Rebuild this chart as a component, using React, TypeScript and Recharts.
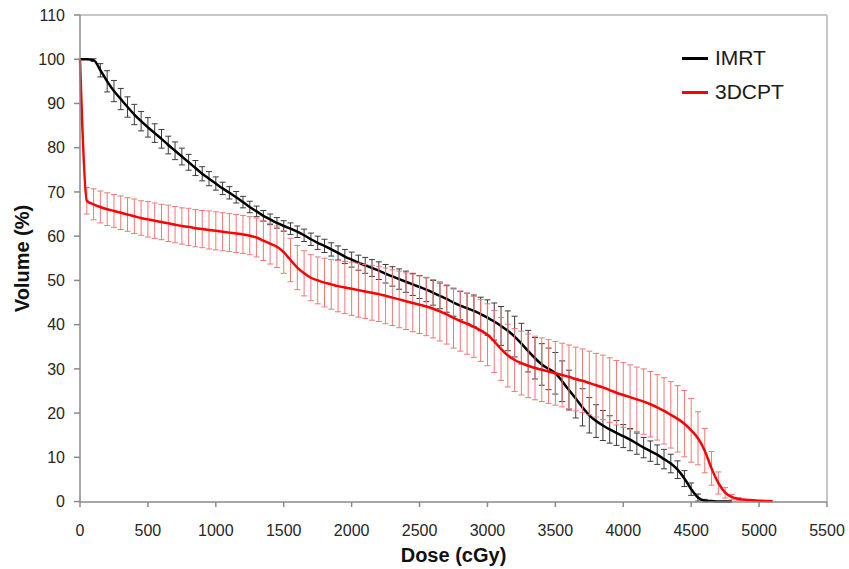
import { CartesianGrid, ErrorBar, Label, Legend, Line, LineChart, ReferenceLine, XAxis, YAxis } from "recharts";

// dose grid (cGy), shared by both curves
const doses = [
  0, 50, 100, 150, 200, 250, 300, 350, 400, 450, 500, 550, 600, 650, 700, 750, 800, 850, 900, 950,
  1000, 1050, 1100, 1150, 1200, 1250, 1300, 1350, 1400, 1450, 1500, 1550, 1600, 1650, 1700, 1750, 1800, 1850, 1900, 1950,
  2000, 2050, 2100, 2150, 2200, 2250, 2300, 2350, 2400, 2450, 2500, 2550, 2600, 2650, 2700, 2750, 2800, 2850, 2900, 2950,
  3000, 3050, 3100, 3150, 3200, 3250, 3300, 3350, 3400, 3450, 3500, 3550, 3600, 3650, 3700, 3750, 3800, 3850, 3900, 3950,
  4000, 4050, 4100, 4150, 4200, 4250, 4300, 4350, 4400, 4450, 4500, 4550, 4600, 4650, 4700, 4750, 4800, 4850, 4900, 4950,
  5000, 5050, 5100,
];

const imrtVolume = [
  100, 100, 99.8, 97.5, 95, 92.8, 91, 89.2, 87.5, 86, 84.6, 83.3, 82, 80.6, 79.3, 78, 76.7, 75.4, 74.1, 73,
  71.9, 70.8, 69.8, 68.8, 67.7, 66.6, 65.6, 64.6, 63.8, 63, 62.3, 61.7, 61, 60.2, 59.3, 58.5, 57.8, 57, 56.2, 55.4,
  54.7, 54, 53.4, 52.8, 52.2, 51.5, 50.9, 50.3, 49.7, 49.1, 48.5, 47.9, 47.2, 46.5, 45.8, 45, 44.3, 43.7, 43.1, 42.4,
  41.6, 40.7, 39.7, 38.6, 37.3, 35.7, 34, 32.4, 31, 30, 29, 27.2, 25.2, 23.3, 21.3, 19.5, 18.2, 17.2, 16.3, 15.5,
  14.8, 14, 13.1, 12.2, 11.4, 10.6, 9.6, 8.6, 7.2, 5.2, 2.8, 0.9, 0.2, 0.1, 0, 0, 0,
];

const imrtError = [
  0, 0, 0.3, 1.5, 2.4, 2.4, 2.4, 2.3, 2.3, 2.2, 2.2, 2.1, 2.1, 2, 2, 1.9, 1.8, 1.7, 1.6, 1.6,
  1.5, 1.4, 1.4, 1.3, 1.3, 1.3, 1.2, 1.2, 1.2, 1.2, 1.2, 1.3, 1.3, 1.4, 1.4, 1.5, 1.5, 1.5, 1.6, 1.6,
  1.7, 1.7, 1.8, 1.9, 2, 2.1, 2.2, 2.3, 2.4, 2.5, 2.6, 2.7, 2.8, 2.9, 3, 3.1, 3.2, 3.4, 3.6, 3.8,
  4, 4.2, 4.4, 4.5, 4.6, 4.6, 4.7, 4.7, 4.7, 4.7, 4.7, 4.6, 4.5, 4.4, 4.2, 4, 3.7, 3.4, 3.1, 2.8,
  2.6, 2.5, 2.4, 2.3, 2.3, 2.2, 2.2, 2.1, 2, 1.8, 1.4, 0.8, 0.3, 0.1, 0, 0, 0,
];

const cptVolume = [
  100, 68, 67.2, 66.6, 66.1, 65.7, 65.3, 64.9, 64.5, 64.1, 63.8, 63.5, 63.2, 62.9, 62.6, 62.3, 62.1, 61.8, 61.6, 61.4,
  61.2, 61, 60.8, 60.6, 60.4, 60.1, 59.7, 59, 58.3, 57.6, 56.4, 54.6, 52.9, 51.6, 50.6, 50, 49.5, 49.1, 48.7, 48.4,
  48.1, 47.8, 47.5, 47.2, 46.9, 46.5, 46.1, 45.7, 45.3, 44.9, 44.5, 44.1, 43.6, 43, 42.3, 41.5, 40.8, 40.2, 39.5, 38.7,
  37.7, 36.2, 34.5, 33, 32, 31.3, 30.7, 30.2, 29.8, 29.4, 29, 28.6, 28.2, 27.7, 27.3, 26.8, 26.3, 25.8, 25.2, 24.6,
  24.1, 23.6, 23.1, 22.6, 22, 21.3, 20.5, 19.6, 18.7, 17.6, 16.1, 14.3, 11.5, 7.5, 4.2, 2, 1, 0.6, 0.4, 0.3,
  0.2, 0.1, 0.05,
];

const cptError = [
  0, 3, 3.5, 3.6, 3.7, 3.7, 3.8, 3.8, 3.9, 3.9, 4, 4, 4, 4.1, 4.1, 4.1, 4.2, 4.2, 4.2, 4.3,
  4.3, 4.3, 4.3, 4.3, 4.3, 4.3, 4.4, 4.5, 4.6, 4.7, 4.8, 4.9, 5, 5.1, 5.2, 5.3, 5.5, 5.6, 5.8, 5.9,
  6, 6.1, 6.1, 6.2, 6.2, 6.3, 6.3, 6.4, 6.4, 6.5, 6.5, 6.6, 6.6, 6.7, 6.7, 6.8, 6.8, 6.9, 6.9, 7,
  7, 7, 7.1, 7.1, 7.1, 7.2, 7.2, 7.2, 7.2, 7.2, 7.2, 7.2, 7.2, 7.2, 7.2, 7.2, 7.2, 7.3, 7.3, 7.3,
  7.3, 7.3, 7.3, 7.4, 7.4, 7.4, 7.5, 7.5, 7.5, 7.5, 7.2, 6, 5, 3.8, 2.5, 1.2, 0.6, 0.3, 0, 0,
  0, 0, 0,
];

const xTicks = [0, 500, 1000, 1500, 2000, 2500, 3000, 3500, 4000, 4500, 5000, 5500];
const yTicks = [0, 10, 20, 30, 40, 50, 60, 70, 80, 90, 100, 110];

const legendItems = [
  { name: "IMRT", color: "#000000" },
  { name: "3DCPT", color: "#ff0000" },
];

const imrtData = imrtVolume.map((v, i) => ({ dose: doses[i], volume: v, err: imrtError[i] }));
const cptData = cptVolume.map((v, i) => ({ dose: doses[i], volume: v, err: cptError[i] }));

const font = '"Liberation Sans", Arial, sans-serif';
const axisGray = "#8a8a8a";

function ChartLegend() {
  return (
    <div style={{ fontFamily: font, fontSize: 21, color: "#1a1a1a" }}>
      {legendItems.map((item) => (
        <div key={item.name} style={{ display: "flex", alignItems: "center", height: 34 }}>
          <div style={{ width: 26, height: 3, background: item.color, marginRight: 7 }} />
          <span>{item.name}</span>
        </div>
      ))}
    </div>
  );
}

export default function App() {
  return (
    <div style={{ position: "absolute", left: 0, top: 0, background: "#fff" }}>
      <LineChart width={849} height={569} margin={{ top: 15, right: 22, bottom: 7, left: 0 }}>
        <CartesianGrid horizontal={false} vertical={false} />
        <XAxis
          type="number"
          dataKey="dose"
          domain={[0, 5500]}
          ticks={xTicks}
          height={60}
          tickSize={5}
          tickMargin={18}
          stroke={axisGray}
          strokeWidth={1.5}
          tick={{ fill: "#262626", fontSize: 16, fontFamily: font }}
        >
          <Label
            value="Dose (cGy)"
            position="insideBottom"
            offset={0}
            style={{ fill: "#111", fontSize: 20, fontWeight: "bold", fontFamily: font }}
          />
        </XAxis>
        <YAxis
          type="number"
          domain={[0, 110]}
          ticks={yTicks}
          width={80}
          tickSize={6}
          tickMargin={9}
          stroke={axisGray}
          strokeWidth={1.5}
          tick={{ fill: "#262626", fontSize: 16, fontFamily: font }}
        >
          <Label
            value="Volume (%)"
            angle={-90}
            position="insideLeft"
            offset={22}
            style={{ textAnchor: "middle", fill: "#111", fontSize: 20, fontWeight: "bold", fontFamily: font }}
          />
        </YAxis>
        <ReferenceLine y={110} stroke="#b4b4b4" strokeWidth={1.5} />
        <ReferenceLine x={5500} stroke="#b4b4b4" strokeWidth={1.5} />
        <Line
          data={imrtData}
          dataKey="volume"
          name="IMRT"
          type="monotone"
          stroke="#000"
          strokeWidth={2.5}
          dot={false}
          isAnimationActive={false}
        >
          <ErrorBar dataKey="err" direction="y" width={3} stroke="#3c3c3c" strokeWidth={1} />
        </Line>
        <Line
          data={cptData}
          dataKey="volume"
          name="3DCPT"
          type="monotone"
          stroke="#ff0000"
          strokeWidth={2.5}
          dot={false}
          isAnimationActive={false}
        >
          <ErrorBar dataKey="err" direction="y" width={3} stroke="#f07878" strokeWidth={1} />
        </Line>
        <Legend
          layout="horizontal"
          verticalAlign="middle"
          align="center"
          content={() => <ChartLegend />}
          wrapperStyle={{ top: 41, left: 682, width: 130 }}
        />
      </LineChart>
    </div>
  );
}
